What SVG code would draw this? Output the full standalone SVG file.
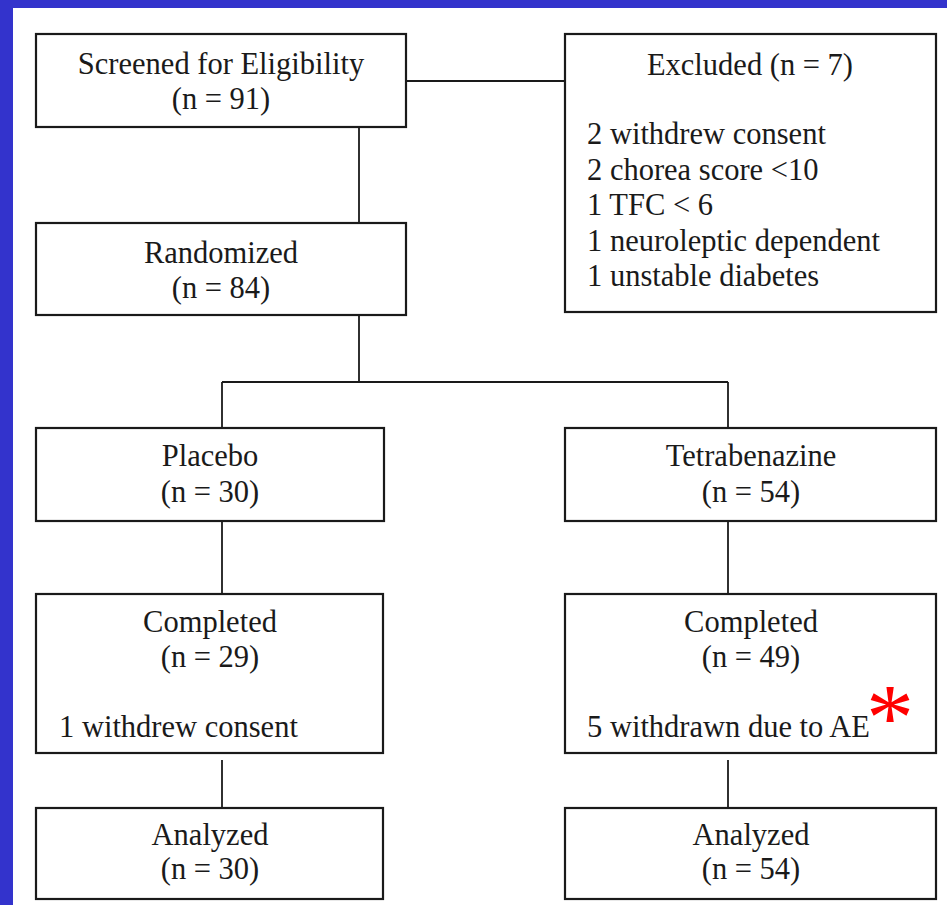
<svg xmlns="http://www.w3.org/2000/svg" width="947" height="905" viewBox="0 0 947 905">
<style>
.box{fill:#fff;stroke:#1a1a1a;stroke-width:2.2}
.t{font-family:"Liberation Serif","Times New Roman",serif;font-size:30.5px;fill:#1a1a1a}
.c{text-anchor:middle}
.ln{stroke:#1a1a1a;stroke-width:1.8;fill:none}
</style>
<rect x="0" y="0" width="947" height="905" fill="#ffffff"/>
<rect x="0" y="0" width="947" height="8" fill="#3333cc"/>
<rect x="0" y="0" width="13" height="905" fill="#3333cc"/>
<g id="connectors">
<line class="ln" x1="406" y1="81" x2="565" y2="81"/>
<line class="ln" x1="359" y1="127" x2="359" y2="223"/>
<line class="ln" x1="359" y1="315" x2="359" y2="382"/>
<line class="ln" x1="222" y1="382" x2="728" y2="382"/>
<line class="ln" x1="222" y1="382" x2="222" y2="428"/>
<line class="ln" x1="728" y1="382" x2="728" y2="428"/>
<line class="ln" x1="222" y1="521" x2="222" y2="594"/>
<line class="ln" x1="728" y1="521" x2="728" y2="594"/>
<line class="ln" x1="222" y1="760" x2="222" y2="808"/>
<line class="ln" x1="728" y1="760" x2="728" y2="808"/>
</g>
<g id="screened">
<rect class="box" x="36" y="34" width="370" height="93"/>
<text class="t c" x="221" y="74">Screened for Eligibility</text>
<text class="t c" x="221" y="109">(n = 91)</text>
</g>
<g id="excluded">
<rect class="box" x="565" y="34" width="371" height="278"/>
<text class="t c" x="750" y="75">Excluded (n = 7)</text>
<text class="t" x="587" y="144">2 withdrew consent</text>
<text class="t" x="587" y="180">2 chorea score &lt;10</text>
<text class="t" x="587" y="215">1 TFC &lt; 6</text>
<text class="t" x="587" y="251">1 neuroleptic dependent</text>
<text class="t" x="587" y="286">1 unstable diabetes</text>
</g>
<g id="randomized">
<rect class="box" x="36" y="223" width="370" height="92"/>
<text class="t c" x="221" y="263">Randomized</text>
<text class="t c" x="221" y="298">(n = 84)</text>
</g>
<g id="placebo">
<rect class="box" x="36" y="428" width="348" height="93"/>
<text class="t c" x="210" y="466">Placebo</text>
<text class="t c" x="210" y="502">(n = 30)</text>
</g>
<g id="tetrabenazine">
<rect class="box" x="565" y="428" width="371" height="93"/>
<text class="t c" x="751" y="466">Tetrabenazine</text>
<text class="t c" x="751" y="502">(n = 54)</text>
</g>
<g id="completed-placebo">
<rect class="box" x="36" y="594" width="347" height="159"/>
<text class="t c" x="210" y="632">Completed</text>
<text class="t c" x="210" y="667">(n = 29)</text>
<text class="t" x="59" y="737">1 withdrew consent</text>
</g>
<g id="completed-tbz">
<rect class="box" x="565" y="594" width="371" height="159"/>
<text class="t c" x="751" y="632">Completed</text>
<text class="t c" x="751" y="667">(n = 49)</text>
<text class="t" x="587" y="737">5 withdrawn due to AE</text>
<text x="890" y="750" font-family="Liberation Serif, serif" font-size="96" fill="#ff0000" text-anchor="middle">*</text>
</g>
<g id="analyzed-placebo">
<rect class="box" x="36" y="808" width="347" height="91"/>
<text class="t c" x="210" y="845">Analyzed</text>
<text class="t c" x="210" y="879">(n = 30)</text>
</g>
<g id="analyzed-tbz">
<rect class="box" x="565" y="808" width="371" height="91"/>
<text class="t c" x="751" y="845">Analyzed</text>
<text class="t c" x="751" y="879">(n = 54)</text>
</g>
</svg>
